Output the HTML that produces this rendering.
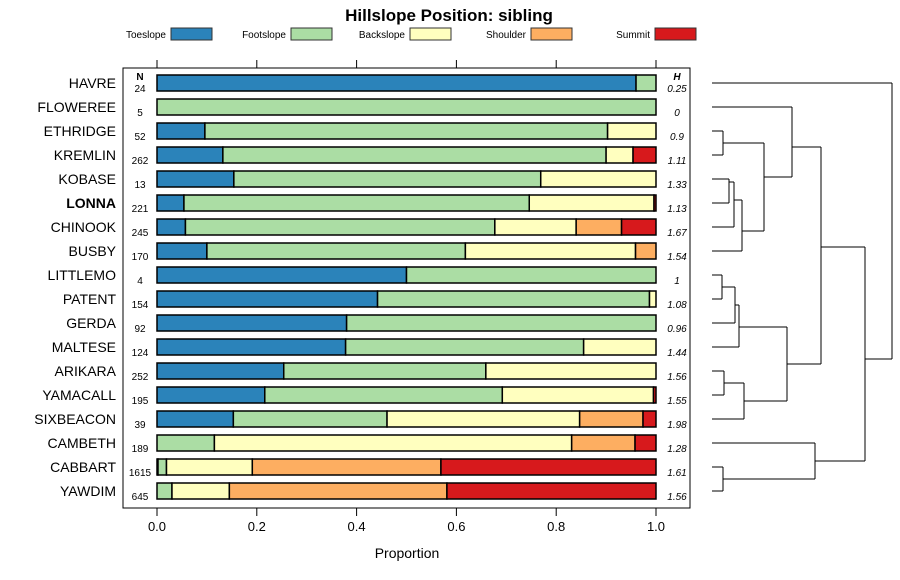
<!DOCTYPE html>
<html><head><meta charset="utf-8">
<style>
body{margin:0;background:#fff;}
svg{display:block;font-family:"Liberation Sans",sans-serif;}
</style></head>
<body>
<svg id="chart" width="900" height="580" viewBox="0 0 900 580">
<text x="449" y="21" text-anchor="middle" font-size="17" font-weight="bold">Hillslope Position: sibling</text>
<g id="legend"></g>
<rect x="123" y="68" width="567" height="440" fill="none" stroke="#000" stroke-width="1"/>
<g id="axes"></g>
<g id="bars"></g>
<g id="dendro"></g>
<text x="407" y="558" text-anchor="middle" font-size="14">Proportion</text>
</svg>
<script>
const categories = ["HAVRE","FLOWEREE","ETHRIDGE","KREMLIN","KOBASE","LONNA","CHINOOK","BUSBY","LITTLEMO","PATENT","GERDA","MALTESE","ARIKARA","YAMACALL","SIXBEACON","CAMBETH","CABBART","YAWDIM"];
const nValues = [24,5,52,262,13,221,245,170,4,154,92,124,252,195,39,189,1615,645];
const hValues = ["0.25","0","0.9","1.11","1.33","1.13","1.67","1.54","1","1.08","0.96","1.44","1.56","1.55","1.98","1.28","1.61","1.56"];
const seriesNames = ["Toeslope","Footslope","Backslope","Shoulder","Summit"];
const seriesColors = ["#2b83ba","#abdda4","#ffffbf","#fdae61","#d7191c"];
const toeslope  = [0.96,0,0.096,0.132,0.154,0.054,0.057,0.10,0.50,0.442,0.38,0.378,0.254,0.216,0.153,0,0.002,0];
const footslope = [0.04,1,0.807,0.768,0.615,0.692,0.62,0.518,0.50,0.545,0.62,0.477,0.405,0.476,0.308,0.115,0.017,0.03];
const backslope = [0,0,0.097,0.054,0.231,0.25,0.163,0.341,0,0.013,0,0.145,0.341,0.303,0.386,0.716,0.172,0.115];
const shoulder  = [0,0,0,0,0,0,0.091,0.041,0,0,0,0,0,0,0.127,0.127,0.378,0.436];
const summit    = [0,0,0,0.046,0,0.004,0.069,0,0,0,0,0,0,0.005,0.026,0.042,0.431,0.419];
const xTicks = [0,0.2,0.4,0.6,0.8,1.0];
const xTickLabels = ["0.0","0.2","0.4","0.6","0.8","1.0"];

const NS="http://www.w3.org/2000/svg";
const X0=157, X1=656;
function xScale(v){return X0+v*(X1-X0);}
function yScale(i){return 83+i*24;}
function mk(tag,attrs,parent){const e=document.createElementNS(NS,tag);for(const k in attrs)e.setAttribute(k,attrs[k]);parent.appendChild(e);return e;}

const axes=document.getElementById('axes');
xTicks.forEach((t,i)=>{
  const x=xScale(t);
  const a=mk('line',{x1:x,x2:x,y1:60,y2:68,stroke:'#000'},axes);
  
  
  const b=mk('line',{x1:x,x2:x,y1:508,y2:516,stroke:'#000'},axes);
  
  
  const tx=mk('text',{x:x,y:531,'text-anchor':'middle','font-size':13},axes);
  tx.textContent=xTickLabels[i];
  
  
});

// legend
const leg=document.getElementById('legend');
const legTextEnd=[166,286,405,526,650];
seriesNames.forEach((s,i)=>{
  const t=mk('text',{x:legTextEnd[i],y:38,'text-anchor':'end','font-size':10},leg);
  t.textContent=s;
  
  
  const r=mk('rect',{x:legTextEnd[i]+5,y:28,width:41,height:12,fill:seriesColors[i],stroke:'#333'},leg);
  
  
});

// headers
const bars=document.getElementById('bars');
let h1=mk('text',{x:140,y:80,'text-anchor':'middle','font-size':10,'font-weight':'bold'},bars);h1.textContent='N';


let h2=mk('text',{x:677,y:80,'text-anchor':'middle','font-size':10,'font-weight':'bold','font-style':'italic'},bars);h2.textContent='H';



const series=[toeslope,footslope,backslope,shoulder,summit];
categories.forEach((c,i)=>{
  const y=yScale(i);
  const lab=mk('text',{x:116,y:y+5,'text-anchor':'end','font-size':14},bars);
  lab.textContent=c;
  if(c==='LONNA')lab.setAttribute('font-weight','bold');
  
  
  const n=mk('text',{x:140,y:y+9,'text-anchor':'middle','font-size':10},bars);
  n.textContent=nValues[i];
  
  
  const h=mk('text',{x:677,y:y+9,'text-anchor':'middle','font-size':10,'font-style':'italic'},bars);
  h.textContent=hValues[i];
  
  
  let cum=0;
  series.forEach((arr,k)=>{
    const v=arr[i];
    if(v>0){
      const r=mk('rect',{x:xScale(cum),y:y-8,width:xScale(cum+v)-xScale(cum),height:16,fill:seriesColors[k],stroke:'#000','stroke-width':1.5},bars);
      
      
    }
    cum+=v;
  });
});

// dendrogram
const dg=document.getElementById('dendro');
const L=712;
function line(x1,y1,x2,y2){const l=mk('line',{x1:x1,y1:y1,x2:x2,y2:y2,stroke:'#000','stroke-width':1},dg);
  
  }
function join(x,ya,xa,yb,xb){line(xa,ya,x,ya);line(xb,yb,x,yb);line(x,ya,x,yb);}
const Y=i=>yScale(i);
join(723,Y(2),L,Y(3),L);           // 143
join(729,Y(4),L,Y(5),L);           // 191
join(734,182,729,Y(6),L);          // 200
join(742,200,734,Y(7),L);          // 231
join(764,143,723,231,742);         // 177
join(792,Y(1),L,177,764);          // 147
join(722,Y(8),L,Y(9),L);           // 287
join(735,287,722,Y(10),L);         // 305
join(739,305,735,Y(11),L);         // 327
join(724,Y(12),L,Y(13),L);         // 383
join(744,383,724,Y(14),L);         // 401
join(787,327,739,401,744);         // 364
join(821,147,792,364,787);         // 247
join(723,Y(16),L,Y(17),L);         // 479
join(815,Y(15),L,479,723);         // 461
join(865,247,821,461,815);         // 359
join(892,Y(0),L,359,865);
</script>
</body></html>
